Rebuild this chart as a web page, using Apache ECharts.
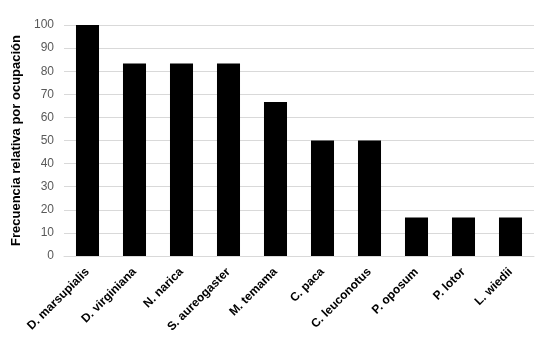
<!DOCTYPE html>
<html><head><meta charset="utf-8">
<script src="https://cdn.jsdelivr.net/npm/echarts@6/dist/echarts.min.js"></script>
<style>html,body{margin:0;padding:0;background:#fff}#c{width:542px;height:340px}</style>
</head><body><div id="c"></div>
<script>
const categories = ["D. marsupialis","D. virginiana","N. narica","S. aureogaster","M. temama","C. paca","C. leuconotus","P. oposum","P. lotor","L. wiedii"];
const values = [100, 83.3, 83.3, 83.3, 66.7, 50, 50, 16.7, 16.7, 16.7];
const yTitle = "Frecuencia relativa por ocupación";
const chart = echarts.init(document.getElementById('c'), null, {renderer:'canvas'});
chart.setOption({
  animation:false,
  grid:{left:64, right:8, top:25, bottom:84, containLabel:false},
  xAxis:{type:'category', data:categories,
    axisLine:{lineStyle:{color:'#d9d9d9', width:1}},
    axisTick:{show:false},
    axisLabel:{rotate:45, interval:0, margin:14, color:'#000', fontFamily:'Liberation Sans, Arial', fontWeight:'bold', fontSize:12}
  },
  yAxis:{type:'value', min:0, max:100, interval:10,
    name:yTitle, nameLocation:'middle', nameGap:39,
    nameTextStyle:{fontFamily:'Liberation Sans, Arial', fontWeight:'bold', fontSize:13, color:'#000'},
    axisLine:{show:false}, axisTick:{show:false},
    axisLabel:{color:'#595959', fontFamily:'Liberation Sans, Arial', fontSize:12, margin:10},
    splitLine:{lineStyle:{color:'#d9d9d9', width:1}}
  },
  series:[{type:'bar', data:values, barWidth:'49%', itemStyle:{color:'#000'}}]
});
</script></body></html>
